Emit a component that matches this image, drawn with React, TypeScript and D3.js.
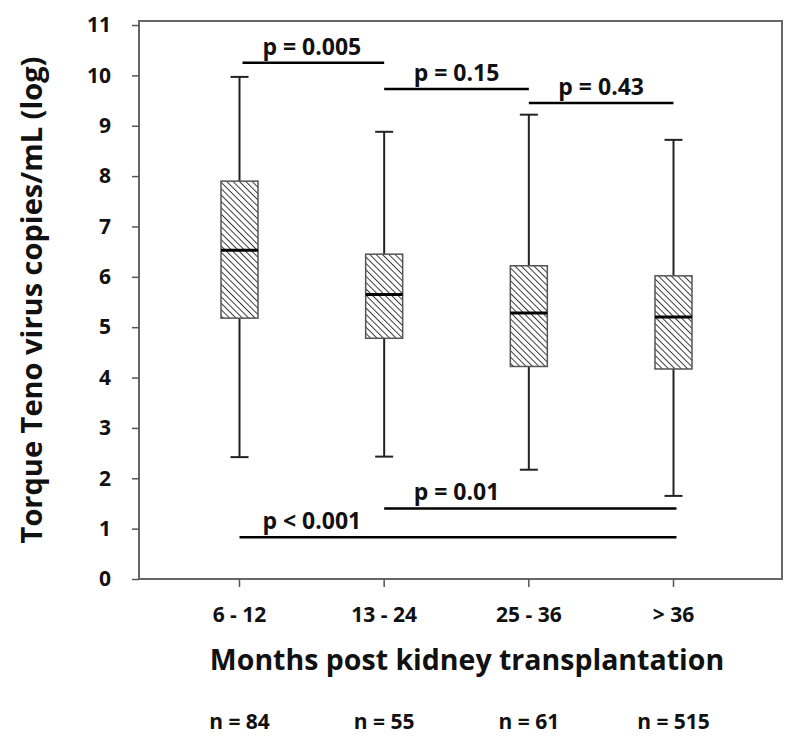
import React from "react";
import { scaleLinear, scaleBand, select, axisLeft, axisBottom } from "d3";

// box stats, log copies/mL
const groups = ["6 - 12", "13 - 24", "25 - 36", "> 36"];
const counts = ["n = 84", "n = 55", "n = 61", "n = 515"];
const whiskerLow = [2.42, 2.43, 2.17, 1.65];
const q1 = [5.18, 4.78, 4.22, 4.17];
const medians = [6.53, 5.65, 5.28, 5.2];
const q3 = [7.9, 6.45, 6.22, 6.02];
const whiskerHigh = [9.97, 8.88, 9.22, 8.72];
const yTicks = [0, 1, 2, 3, 4, 5, 6, 7, 8, 9, 10, 11];

// pairwise comparisons: from group, to group, bar level, label
const compFrom = [0, 1, 2, 1, 0];
const compTo = [1, 2, 3, 3, 3];
const compLevel = [10.25, 9.73, 9.45, 1.4, 0.83];
const compLabel = ["p = 0.005", "p = 0.15", "p = 0.43", "p = 0.01", "p < 0.001"];

const W = 800;
const H = 745;
const margin = { top: 21, right: 18, bottom: 166, left: 139 };
const FONT = "'Open Sans', sans-serif";

export default function App() {
  const axRef = React.useRef<SVGGElement>(null);

  const x = scaleBand()
    .domain(groups)
    .range([margin.left - 8, W - margin.right])
    .paddingInner(0)
    .paddingOuter(0.25);
  const y = scaleLinear()
    .domain([0, 11.08])
    .range([H - margin.bottom, margin.top]);
  const cx = (i: number) => x(groups[i])! + x.bandwidth() / 2;
  const boxW = 37;
  const capW = 18;

  React.useEffect(() => {
    const g = select(axRef.current);
    g.selectAll("*").remove();
    const left = g
      .append("g")
      .attr("transform", `translate(${margin.left},0)`)
      .call(axisLeft(y).tickValues(yTicks).tickSize(7).tickPadding(21).tickFormat((d) => `${d}`));
    const bottom = g
      .append("g")
      .attr("transform", `translate(0,${H - margin.bottom})`)
      .call(axisBottom(x).tickSize(8).tickPadding(20));
    [left, bottom].forEach((a) => {
      a.select(".domain").remove();
      a.selectAll("line").attr("stroke", "#555").attr("stroke-width", 1.5);
      a.selectAll("text")
        .attr("fill", "#111")
        .style("font-family", FONT)
        .style("font-weight", "bold")
        .style("font-size", "21px");
    });
  }, []);

  return (
    <svg width={W} height={H} style={{ display: "block", position: "absolute", left: 0, top: 0, background: "#fff" }}>
      <defs>
        <pattern id="hatch" patternUnits="userSpaceOnUse" width={4.5} height={4.5} patternTransform="rotate(-45)">
          <rect width={4.5} height={4.5} fill="#fff" />
          <line x1={0} y1={0} x2={0} y2={4.5} stroke="#333" strokeWidth={1.9} />
        </pattern>
      </defs>
      <rect
        x={margin.left}
        y={margin.top}
        width={W - margin.left - margin.right}
        height={H - margin.top - margin.bottom}
        fill="none"
        stroke="#666"
        strokeWidth={2}
      />
      <g ref={axRef} />
      {groups.map((gname, i) => (
        <g key={gname}>
          <line x1={cx(i)} x2={cx(i)} y1={y(whiskerHigh[i])} y2={y(q3[i])} stroke="#222" strokeWidth={2} />
          <line x1={cx(i)} x2={cx(i)} y1={y(q1[i])} y2={y(whiskerLow[i])} stroke="#222" strokeWidth={2} />
          <line x1={cx(i) - capW / 2} x2={cx(i) + capW / 2} y1={y(whiskerHigh[i])} y2={y(whiskerHigh[i])} stroke="#222" strokeWidth={2} />
          <line x1={cx(i) - capW / 2} x2={cx(i) + capW / 2} y1={y(whiskerLow[i])} y2={y(whiskerLow[i])} stroke="#222" strokeWidth={2} />
          <rect
            x={cx(i) - boxW / 2}
            y={y(q3[i])}
            width={boxW}
            height={y(q1[i]) - y(q3[i])}
            fill="url(#hatch)"
            stroke="#555"
            strokeWidth={1.5}
          />
          <line x1={cx(i) - boxW / 2} x2={cx(i) + boxW / 2} y1={y(medians[i])} y2={y(medians[i])} stroke="#000" strokeWidth={3} />
        </g>
      ))}
      {compLabel.map((lab, k) => {
        const x1 = cx(compFrom[k]) + (k === 0 ? 3 : 0);
        const x2 = cx(compTo[k]) + (k >= 3 ? 3 : 0);
        const ty = y(compLevel[k]);
        return (
          <g key={lab}>
            <line x1={x1} x2={x2} y1={ty} y2={ty} stroke="#000" strokeWidth={2.5} />
            <text
              x={(cx(compFrom[k]) + (k >= 3 ? cx(compFrom[k] + 1) : cx(compTo[k]))) / 2}
              y={ty - 8}
              textAnchor="middle"
              fontFamily={FONT}
              fontWeight="bold"
              fontSize={23}
              fill="#111"
            >
              {lab}
            </text>
          </g>
        );
      })}
      <text
        transform={`translate(42,300) rotate(-90)`}
        textAnchor="middle"
        fontFamily={FONT}
        fontWeight="bold"
        fontSize={29}
        fill="#111"
      >
        Torque Teno virus copies/mL (log)
      </text>
      <text
        x={467}
        y={670}
        textAnchor="middle"
        fontFamily={FONT}
        fontWeight="bold"
        fontSize={28.5}
        fill="#111"
      >
        Months post kidney transplantation
      </text>
      {counts.map((c, i) => (
        <text key={c} x={cx(i)} y={729} textAnchor="middle" fontFamily={FONT} fontWeight="bold" fontSize={21} fill="#111">
          {c}
        </text>
      ))}
    </svg>
  );
}
